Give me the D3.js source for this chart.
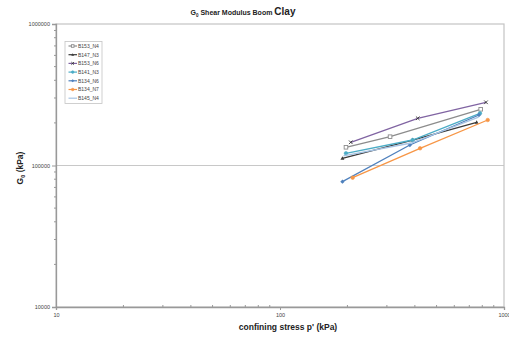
<!DOCTYPE html>
<html>
<head>
<meta charset="utf-8">
<script src="https://cdn.jsdelivr.net/npm/d3@7/dist/d3.min.js"></script>
<style>
  body { margin: 0; background: #fff; }
  svg { display: block; font-family: "Liberation Sans", Arial, sans-serif; }
</style>
</head>
<body>
<svg id="chart" width="509" height="338"></svg>
<script>
// Bender-element shear modulus of Boom Clay samples vs. confining stress
const seriesNames = ["B153_N4", "B147_N3", "B153_N6", "B141_N3", "B134_N6", "B134_N7", "B145_N4"];
const seriesColors = ["#8c8c8c", "#3a3a3a", "#8064a2", "#4bacc6", "#4f81bd", "#f79646", "#a6c3e3"];
const seriesMarkers = ["square", "triangle", "cross", "circle", "diamond", "circle", "none"];

// confining stress p' (kPa) per sample
const pB153_N4 = [197, 310, 787];
const pB147_N3 = [190, 391, 755];
const pB153_N6 = [207, 412, 831];
const pB141_N3 = [197, 391, 781];
const pB134_N6 = [190, 380, 773];
const pB134_N7 = [211, 422, 846];
const pB145_N4 = [192, 385, 770];

// shear modulus G0 (kPa) per sample
const gB153_N4 = [134500, 159800, 249600];
const gB147_N3 = [112400, 151400, 201900];
const gB153_N6 = [145900, 215600, 279700];
const gB141_N3 = [122000, 151400, 233800];
const gB134_N6 = [76900, 139600, 227500];
const gB134_N7 = [82000, 132300, 209700];
const gB145_N4 = [116800, 144200, 220100];

const xTickValues = [10, 100, 1000];
const yTickValues = [10000, 100000, 1000000];

const stressBySeries = [pB153_N4, pB147_N3, pB153_N6, pB141_N3, pB134_N6, pB134_N7, pB145_N4];
const modulusBySeries = [gB153_N4, gB147_N3, gB153_N6, gB141_N3, gB134_N6, gB134_N7, gB145_N4];

const series = seriesNames.map((name, i) => ({
  name, color: seriesColors[i], marker: seriesMarkers[i],
  points: stressBySeries[i].map((p, j) => ({ p, g: modulusBySeries[i][j] }))
}));

const svg = d3.select("#chart");
const W = 509, H = 338;
const m = { left: 56, right: 5, top: 24, bottom: 31 };
const x = d3.scaleLog().domain([10, 1000]).range([m.left, W - m.right]);
const y = d3.scaleLog().domain([10000, 1000000]).range([H - m.bottom, m.top]);

// title
const title = svg.append("text")
  .attr("x", 243).attr("y", 15)
  .attr("text-anchor", "middle")
  .attr("font-weight", "bold").attr("fill", "#222");
title.append("tspan").attr("font-size", 7).text("G");
title.append("tspan").attr("font-size", 4.5).attr("dy", 2).text("0");
title.append("tspan").attr("font-size", 7).attr("dy", -2).text(" Shear Modulus Boom ");
title.append("tspan").attr("font-size", 10).text("Clay");

// minor log ticks
const minorX = [];
[10, 100].forEach(d => { for (let k = 2; k <= 9; k++) minorX.push(d * k); });
const minorY = [];
[10000, 100000].forEach(d => { for (let k = 2; k <= 9; k++) minorY.push(d * k); });

// grid at 100000
svg.append("line")
  .attr("x1", m.left).attr("x2", W - m.right)
  .attr("y1", y(100000)).attr("y2", y(100000))
  .attr("stroke", "#c8c8c8").attr("stroke-width", 1);

// plot frame
svg.append("rect")
  .attr("x", m.left).attr("y", m.top)
  .attr("width", W - m.right - m.left).attr("height", H - m.bottom - m.top)
  .attr("fill", "none").attr("stroke", "#c4c4c4").attr("stroke-width", 1.2);

// y axis
const yAxis = svg.append("g").attr("transform", `translate(${m.left},0)`)
  .call(d3.axisLeft(y).tickValues(yTickValues).tickFormat(d3.format("d")).tickSize(4).tickPadding(2));
yAxis.select(".domain").attr("stroke", "#999").attr("stroke-width", 1.3);
yAxis.selectAll(".tick line").attr("stroke", "#999");
yAxis.selectAll(".tick text").attr("font-size", 5.5).attr("fill", "#444")
  .attr("font-family", "Liberation Sans, Arial, sans-serif");
yAxis.selectAll(".minor").data(minorY).enter().append("line")
  .attr("class", "minor").attr("x1", -2).attr("x2", 0)
  .attr("y1", d => y(d)).attr("y2", d => y(d)).attr("stroke", "#999");

// x axis
const xAxis = svg.append("g").attr("transform", `translate(0,${H - m.bottom})`)
  .call(d3.axisBottom(x).tickValues(xTickValues).tickFormat(d3.format("d")).tickSize(3).tickPadding(3));
xAxis.select(".domain").attr("stroke", "#999").attr("stroke-width", 1.3);
xAxis.selectAll(".tick line").attr("stroke", "#999");
xAxis.selectAll(".tick text").attr("font-size", 5.5).attr("fill", "#444")
  .attr("font-family", "Liberation Sans, Arial, sans-serif");
xAxis.selectAll(".minor").data(minorX).enter().append("line")
  .attr("class", "minor").attr("y1", 0).attr("y2", -2)
  .attr("x1", d => x(d)).attr("x2", d => x(d)).attr("stroke", "#999");

// axis titles
svg.append("text")
  .attr("x", 288).attr("y", 330).attr("text-anchor", "middle")
  .attr("font-size", 8.5).attr("font-weight", "bold").attr("fill", "#222")
  .text("confining stress p' (kPa)");

const yl = svg.append("text")
  .attr("transform", "translate(23,168) rotate(-90)")
  .attr("text-anchor", "middle").attr("font-weight", "bold").attr("fill", "#222")
  .attr("font-size", 8.5);
yl.append("tspan").text("G");
yl.append("tspan").attr("font-size", 5.5).attr("dy", 2).text("0");
yl.append("tspan").attr("dy", -2).text(" (kPa)");

// marker drawing
function drawMarker(g, type, color, cx, cy, s) {
  if (type === "square") {
    g.append("rect").attr("x", cx - s).attr("y", cy - s).attr("width", 2 * s).attr("height", 2 * s)
      .attr("fill", "#fff").attr("stroke", color).attr("stroke-width", 0.9);
  } else if (type === "triangle") {
    g.append("path").attr("d", `M${cx},${cy - s * 1.2}L${cx + s * 1.1},${cy + s * 0.8}L${cx - s * 1.1},${cy + s * 0.8}Z`)
      .attr("fill", color);
  } else if (type === "cross") {
    g.append("path").attr("d", `M${cx - s},${cy - s}L${cx + s},${cy + s}M${cx - s},${cy + s}L${cx + s},${cy - s}`)
      .attr("stroke", "#333").attr("stroke-width", 0.9);
  } else if (type === "circle") {
    g.append("circle").attr("cx", cx).attr("cy", cy).attr("r", s)
      .attr("fill", color).attr("stroke", color).attr("stroke-width", 0.6);
  } else if (type === "diamond") {
    g.append("path").attr("d", `M${cx},${cy - s * 1.2}L${cx + s * 1.2},${cy}L${cx},${cy + s * 1.2}L${cx - s * 1.2},${cy}Z`)
      .attr("fill", color);
  }
}

// series lines
const line = d3.line().x(d => x(d.p)).y(d => y(d.g));
const plot = svg.append("g");
series.forEach(s => {
  const g = plot.append("g");
  g.append("path").datum(s.points).attr("d", line)
    .attr("fill", "none").attr("stroke", s.color).attr("stroke-width", 1.3);
  s.points.forEach(d => drawMarker(g, s.marker, s.color, x(d.p), y(d.g), 1.8));
});

// legend
const lg = svg.append("g");
lg.append("rect").attr("x", 65).attr("y", 41.5).attr("width", 37).attr("height", 62)
  .attr("fill", "#fff").attr("stroke", "#c4c4c4").attr("stroke-width", 0.8);
series.forEach((s, i) => {
  const ry = 46 + i * 8.7;
  const row = lg.append("g");
  row.append("line").attr("x1", 68.5).attr("x2", 77).attr("y1", ry).attr("y2", ry)
    .attr("stroke", s.color).attr("stroke-width", 1.2);
  drawMarker(row, s.marker, s.color, 72.7, ry, 1.3);
  row.append("text").attr("x", 78).attr("y", ry + 1.8)
    .attr("font-size", 5).attr("fill", "#444").text(s.name);
});
</script>
</body>
</html>
